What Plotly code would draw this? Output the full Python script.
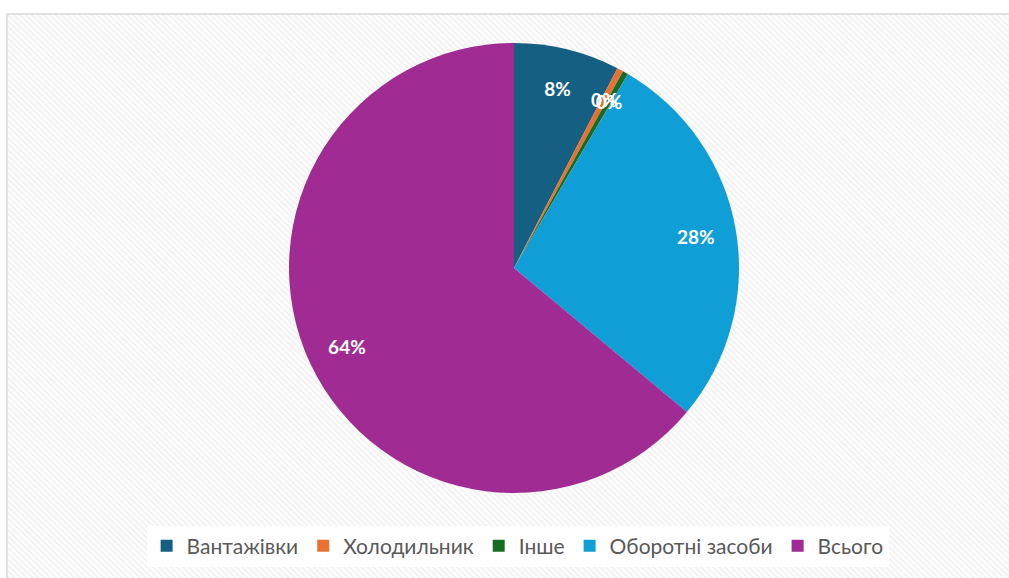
import plotly.graph_objects as go
import base64

categories = ["Вантажівки", "Холодильник", "Інше", "Оборотні засоби", "Всього"]
values = [7.6, 0.45, 0.4, 27.6, 63.95]
colors = ["#156082", "#E97132", "#196B24", "#0F9ED5", "#A02B93"]
small = [False, True, True, False, False]  # slices too thin for an inside label

W, H = 1009, 578

svg = f'''<svg xmlns="http://www.w3.org/2000/svg" width="{W}" height="{H}">
<defs><pattern id="p" patternUnits="userSpaceOnUse" width="6" height="6">
<rect width="6" height="6" fill="#ffffff"/>
<path d="M-2,-2 L8,8 M-2,4 L2,8 M4,-2 L8,2" stroke="#f2f2f2" stroke-width="2"/>
</pattern></defs>
<rect width="{W}" height="{H}" fill="url(#p)"/>
</svg>'''
uri = "data:image/svg+xml;base64," + base64.b64encode(svg.encode()).decode()


def dom(r):
    return dict(x=[(514 - r) / W, (514 + r) / W], y=[1 - (268 + r) / H, 1 - (268 - r) / H])


lbl_font = dict(family="Lato, Open Sans, sans-serif", size=19, color="white", weight="bold")
common = dict(labels=categories, values=values, sort=False, direction="clockwise", rotation=0)

fig = go.Figure()
fig.add_trace(go.Pie(
    **common,
    marker=dict(colors=colors, line=dict(width=0)),
    textinfo="none",
    hoverinfo="label+percent",
    domain=dom(225),
))
# label ring (transparent), places percentages at ~0.83 of radius like the original
fig.add_trace(go.Pie(
    **common,
    hole=0.64,
    marker=dict(colors=["rgba(0,0,0,0)"] * len(values), line=dict(width=0)),
    texttemplate=["" if s else "%{percent:.0%}" for s in small],
    textposition="inside",
    insidetextorientation="horizontal",
    textfont=lbl_font,
    hoverinfo="skip",
    showlegend=False,
    domain=dom(225),
))
# labels for the thin slices, drawn a bit further in
fig.add_trace(go.Pie(
    **common,
    hole=0.5,
    marker=dict(colors=["rgba(0,0,0,0)"] * len(values), line=dict(width=0)),
    texttemplate=["%{percent:.0%}" if s else "" for s in small],
    textposition="inside",
    insidetextorientation="horizontal",
    textfont=lbl_font,
    hoverinfo="skip",
    showlegend=False,
    domain=dom(194),
))

fig.update_layout(
    width=W, height=H,
    margin=dict(l=0, r=0, t=0, b=0),
    paper_bgcolor="white",
    plot_bgcolor="white",
    uniformtext=dict(minsize=19, mode="show"),
    images=[dict(source=uri, xref="paper", yref="paper", x=7 / W, y=1 - 14 / H,
                 sizex=1 - 7 / W, sizey=1 - 14 / H, sizing="stretch", layer="below",
                 xanchor="left", yanchor="top")],
    shapes=[dict(type="rect", xref="paper", yref="paper", x0=7 / W, x1=1.01, y0=-0.01, y1=1 - 14 / H,
                 line=dict(color="#d9d9d9", width=1.5), fillcolor="rgba(0,0,0,0)", layer="below")],
    legend=dict(orientation="h", x=0.513, xanchor="center", y=1 - 546 / H, yanchor="middle",
                bgcolor="white", font=dict(family="Lato, Open Sans, sans-serif", size=21, color="#595959"),
                itemwidth=30, traceorder="normal"),
    showlegend=True,
)

fig.write_html("out.html", config={"displayModeBar": False},
               post_script="document.body.style.margin='0';document.body.style.overflow='hidden';")
